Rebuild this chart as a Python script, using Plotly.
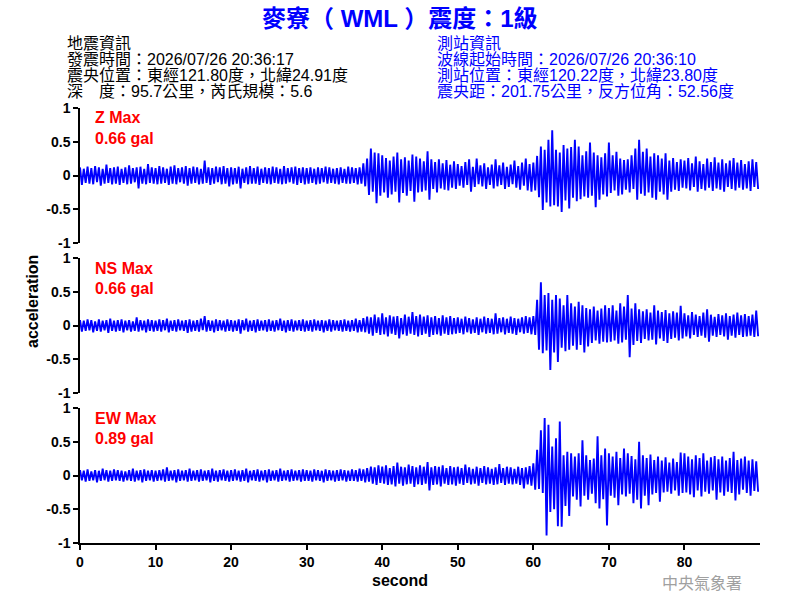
import numpy as np
import plotly.graph_objects as go

# ---- data: decimated waveform samples (gal), 4 samples per second ----
dt = 0.25
z_wave = [
 0.12,-0.14, 0.10,-0.11, 0.13,-0.12, 0.11,-0.13, 0.14,-0.10, 0.12,-0.15, 0.10,-0.12, 0.16,-0.11, 0.11,-0.13, 0.12,-0.12,
 0.13,-0.14, 0.10,-0.11, 0.12,-0.13, 0.15,-0.12, 0.11,-0.10, 0.12,-0.19, 0.13,-0.12, 0.10,-0.13, 0.17,-0.11, 0.12,-0.12,
 0.11,-0.13, 0.14,-0.12, 0.12,-0.11, 0.10,-0.14, 0.13,-0.12, 0.15,-0.13, 0.11,-0.10, 0.12,-0.12, 0.14,-0.15, 0.11,-0.12,
 0.13,-0.11, 0.12,-0.13, 0.10,-0.12, 0.22,-0.11, 0.12,-0.14, 0.11,-0.12, 0.13,-0.10, 0.12,-0.13, 0.14,-0.12, 0.11,-0.16,
 0.12,-0.13, 0.11,-0.12, 0.13,-0.19, 0.10,-0.11, 0.12,-0.13, 0.14,-0.12, 0.11,-0.12, 0.13,-0.14, 0.10,-0.11, 0.12,-0.12,
 0.11,-0.13, 0.13,-0.11, 0.12,-0.12, 0.10,-0.13, 0.14,-0.12, 0.11,-0.10, 0.12,-0.12, 0.13,-0.14, 0.11,-0.11, 0.12,-0.13,
 0.11,-0.12, 0.12,-0.11, 0.10,-0.13, 0.12,-0.12, 0.11,-0.10, 0.13,-0.12, 0.12,-0.11, 0.10,-0.12, 0.11,-0.13, 0.12,-0.11,
 0.10,-0.12, 0.13,-0.12, 0.12,-0.11, 0.11,-0.13, 0.12,-0.12, 0.18,-0.16, 0.25,-0.29, 0.40,-0.24, 0.34,-0.41, 0.33,-0.30,
 0.30,-0.25, 0.26,-0.33, 0.22,-0.28, 0.28,-0.24, 0.34,-0.40, 0.24,-0.26, 0.27,-0.30, 0.22,-0.23, 0.31,-0.39, 0.28,-0.25,
 0.25,-0.24, 0.21,-0.22, 0.36,-0.36, 0.24,-0.20, 0.20,-0.25, 0.24,-0.19, 0.18,-0.21, 0.23,-0.22, 0.16,-0.18, 0.21,-0.20,
 0.17,-0.15, 0.14,-0.18, 0.20,-0.14, 0.24,-0.24, 0.13,-0.17, 0.25,-0.13, 0.15,-0.16, 0.18,-0.20, 0.12,-0.14, 0.16,-0.19,
 0.24,-0.16, 0.15,-0.14, 0.19,-0.20, 0.13,-0.17, 0.16,-0.13, 0.22,-0.18, 0.14,-0.21, 0.19,-0.15, 0.25,-0.22, 0.17,-0.24,
 0.19,-0.22, 0.29,-0.32, 0.43,-0.51, 0.38,-0.40, 0.53,-0.46, 0.67,-0.44, 0.38,-0.46, 0.34,-0.54, 0.45,-0.37, 0.40,-0.49,
 0.42,-0.33, 0.53,-0.38, 0.43,-0.35, 0.30,-0.31, 0.36,-0.33, 0.49,-0.30, 0.34,-0.47, 0.30,-0.36, 0.27,-0.28, 0.33,-0.31,
 0.49,-0.26, 0.30,-0.22, 0.35,-0.30, 0.25,-0.28, 0.23,-0.21, 0.24,-0.25, 0.30,-0.20, 0.40,-0.36, 0.53,-0.27, 0.35,-0.30,
 0.40,-0.25, 0.28,-0.33, 0.33,-0.36, 0.30,-0.24, 0.25,-0.28, 0.33,-0.36, 0.22,-0.24, 0.26,-0.21, 0.20,-0.23, 0.24,-0.18,
 0.22,-0.19, 0.26,-0.22, 0.18,-0.17, 0.28,-0.24, 0.21,-0.20, 0.17,-0.22, 0.25,-0.18, 0.20,-0.23, 0.27,-0.19, 0.19,-0.21,
 0.24,-0.24, 0.18,-0.17, 0.22,-0.20, 0.26,-0.22, 0.19,-0.18, 0.23,-0.21, 0.17,-0.19, 0.21,-0.23, 0.24,-0.17, 0.20,-0.20,
]
ns_wave = [
 0.08,-0.09, 0.07,-0.08, 0.09,-0.07, 0.08,-0.10, 0.06,-0.08, 0.09,-0.09, 0.07,-0.07, 0.08,-0.11, 0.10,-0.08, 0.07,-0.09,
 0.08,-0.08, 0.09,-0.10, 0.07,-0.07, 0.08,-0.09, 0.06,-0.08, 0.12,-0.09, 0.08,-0.07, 0.07,-0.10, 0.09,-0.08, 0.08,-0.09,
 0.07,-0.08, 0.09,-0.09, 0.08,-0.07, 0.10,-0.10, 0.07,-0.08, 0.08,-0.09, 0.09,-0.07, 0.07,-0.08, 0.08,-0.11, 0.09,-0.09,
 0.07,-0.08, 0.08,-0.09, 0.10,-0.07, 0.14,-0.09, 0.08,-0.08, 0.07,-0.10, 0.09,-0.08, 0.08,-0.07, 0.07,-0.09, 0.09,-0.08,
 0.08,-0.09, 0.07,-0.08, 0.09,-0.12, 0.08,-0.07, 0.10,-0.09, 0.07,-0.08, 0.08,-0.10, 0.09,-0.08, 0.07,-0.07, 0.08,-0.09,
 0.09,-0.08, 0.07,-0.09, 0.08,-0.07, 0.10,-0.08, 0.07,-0.10, 0.08,-0.08, 0.09,-0.09, 0.07,-0.07, 0.08,-0.08, 0.09,-0.09,
 0.07,-0.08, 0.08,-0.09, 0.09,-0.07, 0.07,-0.08, 0.08,-0.10, 0.07,-0.08, 0.09,-0.09, 0.08,-0.07, 0.07,-0.08, 0.08,-0.09,
 0.09,-0.08, 0.07,-0.09, 0.08,-0.08, 0.10,-0.10, 0.08,-0.09, 0.11,-0.10, 0.13,-0.12, 0.12,-0.15, 0.16,-0.11, 0.12,-0.14,
 0.18,-0.13, 0.12,-0.16, 0.15,-0.12, 0.13,-0.14, 0.14,-0.19, 0.11,-0.13, 0.16,-0.15, 0.13,-0.12, 0.20,-0.14, 0.14,-0.16,
 0.16,-0.14, 0.13,-0.12, 0.15,-0.17, 0.12,-0.14, 0.14,-0.13, 0.11,-0.15, 0.15,-0.12, 0.12,-0.14, 0.14,-0.13, 0.11,-0.12,
 0.12,-0.11, 0.10,-0.13, 0.13,-0.10, 0.11,-0.12, 0.09,-0.11, 0.12,-0.14, 0.10,-0.10, 0.13,-0.12, 0.11,-0.11, 0.10,-0.13,
 0.18,-0.12, 0.11,-0.10, 0.12,-0.13, 0.10,-0.11, 0.13,-0.12, 0.11,-0.14, 0.10,-0.10, 0.12,-0.12, 0.14,-0.11, 0.12,-0.13,
 0.14,-0.14, 0.38,-0.36, 0.64,-0.41, 0.45,-0.37, 0.48,-0.66, 0.38,-0.40, 0.45,-0.54, 0.40,-0.33, 0.30,-0.38, 0.45,-0.36,
 0.33,-0.30, 0.28,-0.36, 0.35,-0.29, 0.30,-0.40, 0.26,-0.31, 0.24,-0.26, 0.28,-0.22, 0.22,-0.27, 0.25,-0.24, 0.30,-0.25,
 0.26,-0.24, 0.30,-0.22, 0.22,-0.27, 0.33,-0.25, 0.28,-0.21, 0.45,-0.47, 0.25,-0.29, 0.33,-0.23, 0.24,-0.26, 0.21,-0.20,
 0.24,-0.22, 0.19,-0.21, 0.30,-0.28, 0.22,-0.19, 0.20,-0.23, 0.23,-0.26, 0.18,-0.20, 0.21,-0.18, 0.19,-0.22, 0.29,-0.19,
 0.18,-0.16, 0.15,-0.19, 0.20,-0.14, 0.16,-0.17, 0.14,-0.15, 0.19,-0.18, 0.24,-0.24, 0.16,-0.15, 0.13,-0.17, 0.17,-0.14,
 0.15,-0.16, 0.18,-0.21, 0.14,-0.15, 0.16,-0.18, 0.19,-0.14, 0.15,-0.17, 0.17,-0.16, 0.14,-0.15, 0.16,-0.17, 0.22,-0.16,
]
ew_wave = [
 0.08,-0.07, 0.07,-0.09, 0.09,-0.08, 0.06,-0.07, 0.08,-0.10, 0.07,-0.08, 0.10,-0.07, 0.08,-0.09, 0.07,-0.08, 0.09,-0.07,
 0.08,-0.08, 0.07,-0.09, 0.06,-0.07, 0.08,-0.08, 0.10,-0.09, 0.07,-0.07, 0.08,-0.10, 0.09,-0.08, 0.07,-0.07, 0.08,-0.09,
 0.07,-0.08, 0.08,-0.07, 0.09,-0.09, 0.12,-0.08, 0.07,-0.07, 0.08,-0.10, 0.09,-0.08, 0.07,-0.07, 0.08,-0.09, 0.10,-0.08,
 0.07,-0.07, 0.08,-0.09, 0.09,-0.08, 0.07,-0.07, 0.08,-0.10, 0.10,-0.08, 0.07,-0.09, 0.08,-0.07, 0.09,-0.08, 0.07,-0.09,
 0.08,-0.08, 0.09,-0.07, 0.07,-0.09, 0.08,-0.08, 0.10,-0.10, 0.07,-0.07, 0.08,-0.08, 0.09,-0.09, 0.07,-0.07, 0.08,-0.10,
 0.09,-0.08, 0.07,-0.07, 0.08,-0.09, 0.10,-0.08, 0.07,-0.07, 0.08,-0.09, 0.09,-0.08, 0.07,-0.07, 0.08,-0.09, 0.09,-0.08,
 0.08,-0.08, 0.07,-0.09, 0.09,-0.07, 0.08,-0.08, 0.07,-0.10, 0.09,-0.08, 0.08,-0.07, 0.07,-0.09, 0.08,-0.08, 0.09,-0.07,
 0.08,-0.09, 0.07,-0.08, 0.09,-0.08, 0.08,-0.09, 0.10,-0.08, 0.09,-0.10, 0.11,-0.09, 0.13,-0.12, 0.12,-0.14, 0.15,-0.11,
 0.13,-0.12, 0.15,-0.14, 0.11,-0.13, 0.14,-0.16, 0.19,-0.12, 0.13,-0.15, 0.12,-0.13, 0.16,-0.12, 0.14,-0.17, 0.12,-0.13,
 0.15,-0.14, 0.13,-0.12, 0.20,-0.22, 0.12,-0.14, 0.14,-0.13, 0.13,-0.16, 0.15,-0.12, 0.11,-0.14, 0.14,-0.13, 0.12,-0.15,
 0.13,-0.12, 0.11,-0.14, 0.16,-0.11, 0.12,-0.13, 0.10,-0.12, 0.13,-0.15, 0.11,-0.11, 0.14,-0.13, 0.12,-0.12, 0.10,-0.14,
 0.12,-0.13, 0.17,-0.11, 0.11,-0.14, 0.13,-0.12, 0.12,-0.13, 0.10,-0.12, 0.13,-0.14, 0.11,-0.19, 0.12,-0.13, 0.14,-0.15,
 0.18,-0.21, 0.38,-0.20, 0.67,-0.26, 0.85,-0.89, 0.75,-0.54, 0.43,-0.50, 0.55,-0.75, 0.80,-0.76, 0.30,-0.45, 0.35,-0.60,
 0.33,-0.31, 0.28,-0.36, 0.33,-0.46, 0.52,-0.30, 0.30,-0.36, 0.23,-0.27, 0.25,-0.41, 0.58,-0.49, 0.30,-0.35, 0.40,-0.74,
 0.33,-0.30, 0.28,-0.33, 0.35,-0.44, 0.26,-0.28, 0.40,-0.31, 0.33,-0.27, 0.29,-0.41, 0.24,-0.36, 0.50,-0.49, 0.30,-0.30,
 0.26,-0.44, 0.31,-0.28, 0.23,-0.26, 0.28,-0.39, 0.22,-0.25, 0.27,-0.24, 0.19,-0.27, 0.25,-0.22, 0.20,-0.30, 0.34,-0.26,
 0.33,-0.25, 0.28,-0.28, 0.24,-0.32, 0.30,-0.22, 0.26,-0.31, 0.33,-0.24, 0.22,-0.27, 0.27,-0.22, 0.29,-0.36, 0.24,-0.25,
 0.28,-0.30, 0.22,-0.24, 0.26,-0.26, 0.35,-0.37, 0.23,-0.28, 0.25,-0.21, 0.28,-0.26, 0.22,-0.30, 0.24,-0.23, 0.21,-0.24,
]

components = ["Z", "NS", "EW"]
max_gal = ["0.66", "0.66", "0.89"]
y_ticks = [-1, -0.5, 0, 0.5, 1]
y_ticktext = ["-1", "-0.5", "0", "0.5", "1"]
x_ticks = [0, 10, 20, 30, 40, 50, 60, 70, 80]

title_text = "麥寮（ WML ）震度：1級"
left_info = ["地震資訊",
             "發震時間：2026/07/26 20:36:17",
             "震央位置：東經121.80度，北緯24.91度",
             "深　度：95.7公里，芮氏規模：5.6"]
right_info = ["測站資訊",
              "波線起始時間：2026/07/26 20:36:10",
              "測站位置：東經120.22度，北緯23.80度",
              "震央距：201.75公里，反方位角：52.56度"]

# ---- layout helpers (pixel geometry of the reference) ----
W, H = 800, 600
L, R, T, B = 80, 40, 108, 57
PW, PH = W - L - R, H - T - B
def px(x):
    return (x - L) / PW
def py(y):
    return (H - B - y) / PH

FONT = "Liberation Sans, Arial, 'Noto Sans CJK TC', sans-serif"
BLUE = "#0000ff"

fig = go.Figure()
waves = [z_wave, ns_wave, ew_wave]
panel_px = [(108, 243), (258, 393), (408, 543)]
for i, wave in enumerate(waves):
    t = np.arange(len(wave)) * dt
    fig.add_trace(go.Scatter(x=t, y=wave, mode="lines",
                             line=dict(color=BLUE, width=1.9, simplify=False),
                             xaxis="x", yaxis="y" if i == 0 else f"y{i+1}",
                             showlegend=False, hoverinfo="skip"))

axis_common = dict(range=[-1, 1], tickvals=y_ticks, ticktext=y_ticktext,
                   showgrid=False, zeroline=False, showline=True,
                   linecolor="black", linewidth=1.5, ticks="outside",
                   ticklen=5, tickwidth=1.5, tickcolor="black",
                   tickfont=dict(family=FONT, size=14, color="black", weight="bold"),
                   fixedrange=True)
doms = [[py(bot), py(top)] for top, bot in panel_px]

fig.update_layout(
    width=W, height=H,
    margin=dict(l=L, r=R, t=T, b=B),
    paper_bgcolor="white", plot_bgcolor="white",
    showlegend=False,
    xaxis=dict(range=[0, 90], tickvals=x_ticks, showgrid=False, zeroline=False,
               showline=True, linecolor="black", linewidth=1.5, ticks="outside",
               ticklen=5, tickwidth=1.5, tickcolor="black", anchor="y3",
               tickfont=dict(family=FONT, size=14, color="black", weight="bold")),
    yaxis=dict(domain=doms[0], anchor="x", **axis_common),
    yaxis2=dict(domain=doms[1], anchor="x", **axis_common),
    yaxis3=dict(domain=doms[2], anchor="x", **axis_common),
)

ann = []
ann.append(dict(x=px(400), y=py(18), xref="paper", yref="paper", text=title_text,
                showarrow=False, xanchor="center", yanchor="middle",
                font=dict(family=FONT, size=24, color=BLUE, weight="bold")))
line_y = [43, 59, 75, 91]
for txt, yy in zip(left_info, line_y):
    ann.append(dict(x=px(65), y=py(yy), xref="paper", yref="paper", text=txt,
                    showarrow=False, xanchor="left", yanchor="middle",
                    font=dict(family=FONT, size=16, color="black")))
for txt, yy in zip(right_info, line_y):
    ann.append(dict(x=px(435), y=py(yy), xref="paper", yref="paper", text=txt,
                    showarrow=False, xanchor="left", yanchor="middle",
                    font=dict(family=FONT, size=16, color=BLUE)))
for (top, bot), name, mg in zip(panel_px, components, max_gal):
    ann.append(dict(x=px(93), y=py(top + 10), xref="paper", yref="paper",
                    text=f"{name} Max", showarrow=False, xanchor="left", yanchor="middle",
                    font=dict(family=FONT, size=16, color="#ff0000", weight="bold")))
    ann.append(dict(x=px(93), y=py(top + 30), xref="paper", yref="paper",
                    text=f"{mg} gal", showarrow=False, xanchor="left", yanchor="middle",
                    font=dict(family=FONT, size=16, color="#ff0000", weight="bold")))
ann.append(dict(x=px(400), y=py(580), xref="paper", yref="paper", text="second",
                showarrow=False, xanchor="center", yanchor="middle",
                font=dict(family=FONT, size=16, color="black", weight="bold")))
ann.append(dict(x=px(32), y=py(302), xref="paper", yref="paper", text="acceleration",
                showarrow=False, xanchor="center", yanchor="middle", textangle=-90,
                font=dict(family=FONT, size=16, color="black", weight="bold")))
ann.append(dict(x=px(702), y=py(582), xref="paper", yref="paper", text="中央氣象署",
                showarrow=False, xanchor="center", yanchor="middle",
                font=dict(family="'Noto Sans CJK TC', sans-serif", size=16, color="#a0a0a0")))
fig.update_layout(annotations=ann)

fig.write_html("out.html")
